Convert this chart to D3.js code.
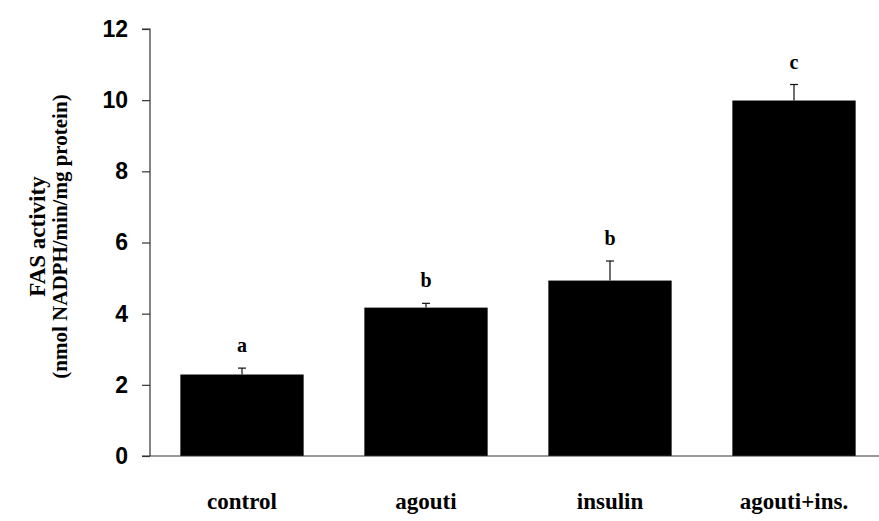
<!DOCTYPE html>
<html>
<head>
<meta charset="utf-8">
<script src="https://cdn.jsdelivr.net/npm/d3@7"></script>
<style>
  html, body { margin: 0; padding: 0; background: #fff; }
  svg { display: block; }
</style>
</head>
<body>
<svg id="chart" width="879" height="521"></svg>
<script>
const categories = ["control", "agouti", "insulin", "agouti+ins."];
const values = [2.29, 4.17, 4.93, 9.99];
const errors = [0.18, 0.12, 0.55, 0.45];
const sigLetters = ["a", "b", "b", "c"];
const yTicks = [0, 2, 4, 6, 8, 10, 12];
const yTitleLines = ["FAS activity", "(nmol NADPH/min/mg protein)"];

const svg = d3.select("#chart");

const x = d3.scaleBand()
  .domain(categories)
  .range([150, 886])
  .paddingInner(0.33)
  .paddingOuter(0.165);

const y = d3.scaleLinear()
  .domain([0, 12])
  .range([456, 29]);

// Bars
svg.append("g").selectAll("rect")
  .data(categories)
  .join("rect")
  .attr("x", d => x(d))
  .attr("y", (d, i) => y(values[i]))
  .attr("width", x.bandwidth())
  .attr("height", (d, i) => y(0) - y(values[i]))
  .attr("fill", "#000");

// Error bars (upper only)
const eg = svg.append("g").attr("stroke", "#111").attr("stroke-width", 1.2);
categories.forEach((c, i) => {
  const cx = x(c) + x.bandwidth() / 2;
  eg.append("line")
    .attr("x1", cx).attr("x2", cx)
    .attr("y1", y(values[i])).attr("y2", y(values[i] + errors[i]));
  eg.append("line")
    .attr("x1", cx - 4).attr("x2", cx + 4)
    .attr("y1", y(values[i] + errors[i])).attr("y2", y(values[i] + errors[i]));
});

// Significance letters
svg.append("g").selectAll("text")
  .data(categories)
  .join("text")
  .attr("x", d => x(d) + x.bandwidth() / 2)
  .attr("y", (d, i) => y(values[i] + errors[i]) - 16)
  .attr("text-anchor", "middle")
  .attr("font-family", "'Liberation Serif', 'Times New Roman', serif")
  .attr("font-weight", "bold")
  .attr("font-size", 20)
  .text((d, i) => sigLetters[i]);

// Y axis
const yAxis = d3.axisLeft(y)
  .tickValues(yTicks)
  .tickSize(8)
  .tickPadding(14)
  .tickFormat(d3.format("d"));
const yg = svg.append("g")
  .attr("transform", "translate(150,0)")
  .call(yAxis);
yg.select(".domain").attr("d", `M-8,${y(12)}H0V${y(0)}`).attr("stroke", "#333").attr("stroke-width", 1.2);
yg.selectAll(".tick line").attr("stroke", "#333").attr("stroke-width", 1.2);
yg.selectAll(".tick text")
  .attr("font-family", "'Liberation Sans', Arial, sans-serif")
  .attr("font-weight", "bold")
  .attr("font-size", 23)
  .attr("fill", "#000");

// X baseline
svg.append("line")
  .attr("x1", 142).attr("x2", 879)
  .attr("y1", y(0)).attr("y2", y(0))
  .attr("stroke", "#333").attr("stroke-width", 1.2);

// X category labels
const xAxis = d3.axisBottom(x).tickSize(0).tickPadding(0);
const xg = svg.append("g")
  .attr("transform", `translate(0,${y(0)})`)
  .call(xAxis);
xg.select(".domain").remove();
xg.selectAll(".tick text")
  .attr("dy", null)
  .attr("y", 53)
  .attr("font-family", "'Liberation Serif', 'Times New Roman', serif")
  .attr("font-weight", "bold")
  .attr("font-size", 23)
  .attr("fill", "#000");

// Y title
const yMid = (y(0) + y(12)) / 2 - 6;
const titleX = [45, 67];
const titleSize = [23, 21];
yTitleLines.forEach((t, i) => {
  svg.append("text")
    .attr("transform", `translate(${titleX[i]},${yMid}) rotate(-90)`)
    .attr("text-anchor", "middle")
    .attr("font-family", "'Liberation Serif', 'Times New Roman', serif")
    .attr("font-weight", "bold")
    .attr("font-size", titleSize[i])
    .attr("fill", "#000")
    .text(t);
});
</script>
</body>
</html>
